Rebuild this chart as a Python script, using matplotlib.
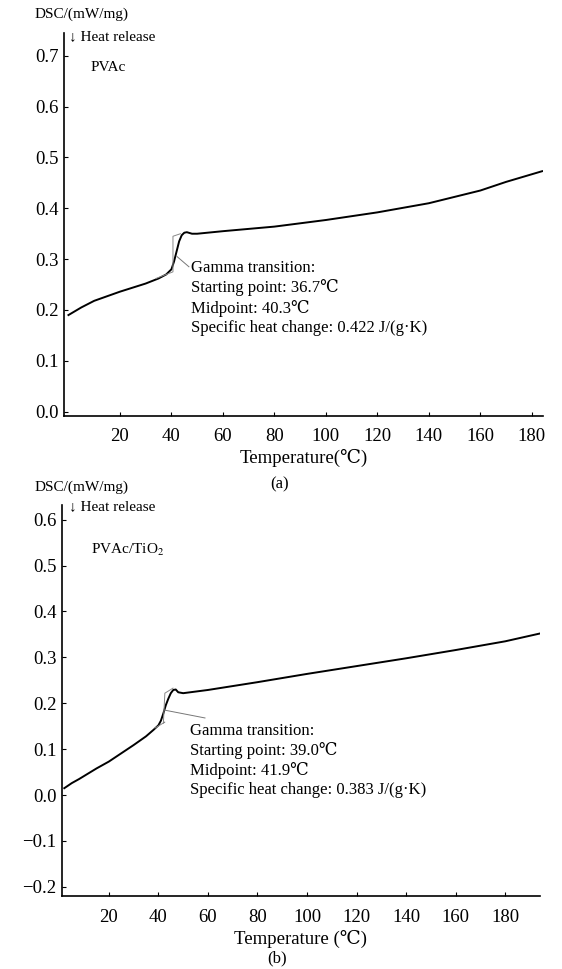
import matplotlib
matplotlib.use("Agg")
import matplotlib.pyplot as plt

plt.rcParams['font.family'] = ['Liberation Serif', 'DejaVu Serif']
plt.rcParams['mathtext.fontset'] = 'stix'

# (a) PVAc DSC curve
temp_a = [0, 5, 10, 20, 30, 35, 38, 40, 41, 42, 43, 44, 45, 46, 48, 50,
          60, 80, 100, 120, 140, 160, 170, 184]
dsc_a = [0.19, 0.205, 0.218, 0.236, 0.252, 0.262, 0.270, 0.280, 0.295, 0.315,
         0.335, 0.347, 0.352, 0.353, 0.350, 0.350, 0.355, 0.364, 0.377, 0.392,
         0.410, 0.435, 0.452, 0.473]
# tangent construction (a)
tan_a_T = [34, 40.6, 40.6, 43.5]
tan_a_y = [0.262, 0.275, 0.345, 0.350]
lead_a_T = [42.2, 46.8]
lead_a_y = [0.305, 0.285]
note_a = ("Gamma transition:\nStarting point: 36.7\u2103\nMidpoint: 40.3\u2103\n"
          "Specific heat change: 0.422 J/(g\u00b7K)")

# (b) PVAc/TiO2 DSC curve
temp_b = [2, 5, 8, 15, 20, 25, 30, 35, 38, 40, 41, 42, 43, 44, 45, 46, 47, 48,
          50, 60, 80, 100, 120, 140, 160, 180, 194]
dsc_b = [0.015, 0.026, 0.035, 0.058, 0.073, 0.091, 0.109, 0.128, 0.142, 0.152,
         0.162, 0.178, 0.196, 0.210, 0.222, 0.229, 0.230, 0.224, 0.222, 0.229,
         0.246, 0.264, 0.281, 0.298, 0.316, 0.335, 0.352]
tan_b_T = [38.6, 42.6, 42.0, 42.6, 45.9]
tan_b_y = [0.146, 0.159, 0.157, 0.222, 0.233]
lead_b_T = [42.6, 58.8]
lead_b_y = [0.185, 0.168]
note_b = ("Gamma transition:\nStarting point: 39.0\u2103\nMidpoint: 41.9\u2103\n"
          "Specific heat change: 0.383 J/(g\u00b7K)")

yticks_a = [0.0, 0.1, 0.2, 0.3, 0.4, 0.5, 0.6, 0.7]
yticks_b = [-0.2, -0.1, 0.0, 0.1, 0.2, 0.3, 0.4, 0.5, 0.6]
xticks_a = [20, 40, 60, 80, 100, 120, 140, 160, 180]
xticks_b = [20, 40, 60, 80, 100, 120, 140, 160, 180]

fig = plt.figure(figsize=(5.62, 9.69), dpi=100)
ax1 = fig.add_axes([0.114, 0.571, 0.852, 0.395])
ax2 = fig.add_axes([0.110, 0.0753, 0.851, 0.404])


def style(ax):
    for s in ['top', 'right']:
        ax.spines[s].set_visible(False)
    for s in ['left', 'bottom']:
        ax.spines[s].set_linewidth(1.2)
    ax.tick_params(direction='in', length=3, width=0.8, labelsize=13.5)
    ax.tick_params(axis='x', pad=9)
    ax.tick_params(axis='y', pad=4)


ax1.plot(temp_a, dsc_a, color='black', lw=1.4)
ax1.plot(tan_a_T, tan_a_y, color='#888888', lw=0.7)
ax1.plot(lead_a_T, lead_a_y, color='#777777', lw=0.7)
ax1.text(47.6, 0.298, note_a, fontsize=12, linespacing=1.25, va='top', ha='left')
ax1.set_xlim(-1.7, 184.3)
ax1.set_ylim(-0.008, 0.745)
ax1.set_xticks(xticks_a)
ax1.set_yticks(yticks_a)
ax1.set_yticklabels([f"{v:.1f}" for v in yticks_a])
style(ax1)
ax1.set_xlabel("Temperature(\u2103)", fontsize=13.5, labelpad=3)
ax1.text(0.45, -0.19, "(a)", transform=ax1.transAxes, fontsize=12, ha='center')
ax1.text(-0.062, 1.04, "DSC/(mW/mg)", transform=ax1.transAxes, fontsize=11, ha='left')
ax1.text(0.01, 0.99, "\u2193 Heat release", transform=ax1.transAxes, fontsize=11, ha='left', va='center')
ax1.text(0.055, 0.91, "PVAc", transform=ax1.transAxes, fontsize=11, ha='left', va='center')

ax2.plot(temp_b, dsc_b, color='black', lw=1.4)
ax2.plot(tan_b_T, tan_b_y, color='#888888', lw=0.7)
ax2.plot(lead_b_T, lead_b_y, color='#777777', lw=0.7)
ax2.text(52.7, 0.158, note_b, fontsize=12, linespacing=1.25, va='top', ha='left')
ax2.set_xlim(1.0, 194.1)
ax2.set_ylim(-0.22, 0.633)
ax2.set_xticks(xticks_b)
ax2.set_yticks(yticks_b)
ax2.set_yticklabels([f"{v:.1f}".replace('-', '\u2212') for v in yticks_b])
style(ax2)
ax2.set_xlabel("Temperature (\u2103)", fontsize=13.5, labelpad=3)
ax2.text(0.45, -0.17, "(b)", transform=ax2.transAxes, fontsize=12, ha='center')
ax2.text(-0.058, 1.035, "DSC/(mW/mg)", transform=ax2.transAxes, fontsize=11, ha='left')
ax2.text(0.015, 0.995, "\u2193 Heat release", transform=ax2.transAxes, fontsize=11, ha='left', va='center')
ax2.text(0.06, 0.885, "PVAc/TiO$_2$", transform=ax2.transAxes, fontsize=11, ha='left', va='center')

fig.savefig("out.png", dpi=100)
